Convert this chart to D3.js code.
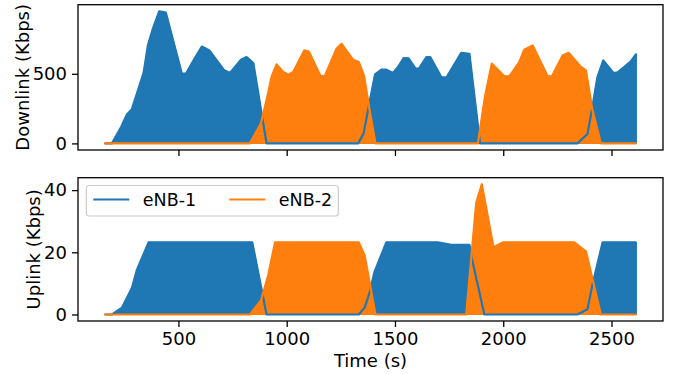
<!DOCTYPE html>
<html>
<head>
<meta charset="utf-8">
<script src="https://cdn.jsdelivr.net/npm/d3@7/dist/d3.min.js"></script>
<style>
  body { margin: 0; background: #fff; }
  text { font-family: "DejaVu Sans", sans-serif; fill: #000; }
</style>
</head>
<body>
<svg id="chart" width="677" height="374"></svg>
<script>
// Downlink throughput (Kbps), each cell sampled at its own instants (s)
const dlTime1 = [159, 193, 236, 262, 285, 313, 339, 359, 380, 411, 442, 516, 535, 574, 608, 643, 677, 712, 738, 789, 815, 846, 907,
  1330, 1355, 1378, 1408, 1437, 1460, 1491, 1514, 1540, 1563, 1595, 1611, 1645, 1663, 1714, 1737, 1806, 1844, 1870, 1893,
  2343, 2389, 2412, 2435, 2462, 2509, 2528, 2558, 2589, 2615];
const dl1 = [0, 0, 120, 208, 246, 382, 506, 704, 815, 949, 939, 501, 501, 608, 696, 668, 596, 525, 506, 601, 620, 577, 0,
  0, 70, 260, 496, 530, 530, 506, 549, 613, 611, 537, 537, 620, 620, 477, 472, 651, 644, 300, 0,
  0, 68, 263, 477, 596, 506, 511, 549, 589, 644];

const dlTime2 = [159, 830, 881, 907, 930, 953, 984, 1007, 1030, 1081, 1102, 1156, 1176, 1230, 1253, 1306, 1333, 1357, 1383, 1410,
  1883, 1915, 1947, 2005, 2028, 2074, 2097, 2136, 2205, 2225, 2274, 2302, 2356, 2382, 2412, 2451, 2615];
const dl2 = [0, 0, 144, 311, 477, 568, 513, 494, 513, 668, 660, 484, 484, 680, 716, 601, 584, 486, 239, 0,
  0, 330, 573, 482, 482, 584, 673, 704, 482, 482, 632, 651, 554, 525, 239, 0, 0];

// Uplink throughput (Kbps)
const ulTime1 = [159, 193, 239, 285, 308, 362, 841, 907, 1333, 1360, 1383, 1406, 1460, 1698, 1760, 1844, 1860, 1913,
  2343, 2389, 2412, 2459, 2615];
const ul1 = [0, 0, 2.2, 8.5, 14.3, 23.2, 23.2, 0, 0, 2.2, 7, 13.8, 23.2, 23.2, 22.4, 22.4, 16.5, 0,
  0, 1.7, 9.6, 23.2, 23.2];

const ulTime2 = [159, 830, 881, 915, 946, 1333, 1360, 1410, 1829, 1875, 1901, 1955, 1998, 2328, 2382, 2451, 2615];
const ul2 = [0, 0, 4.5, 12.7, 23.2, 23.2, 19, 0, 0, 35.8, 41.9, 21.6, 23.2, 23.2, 20.3, 0, 0];

const seriesNames = ['eNB-1', 'eNB-2'];
const colors = ['#1f77b4', '#ff7f0e'];
const xTicks = [500, 1000, 1500, 2000, 2500];
const dlTicks = [0, 500];
const ulTicks = [0, 20, 40];

const svg = d3.select('#chart');
const fs = 18;
const legendFs = 17.5;
const left = 78, right = 663;

// matplotlib style 5% margins
function padded(lo, hi) {
  const r = hi - lo;
  return [lo - 0.05 * r, hi + 0.05 * r];
}

const allTimes = dlTime1.concat(dlTime2, ulTime1, ulTime2);
const x = d3.scaleLinear()
  .domain(padded(d3.min(allTimes), d3.max(allTimes)))
  .range([left, right]);

const panels = [
  { top: 4.7, bottom: 150, label: 'Downlink (Kbps)', ticks: dlTicks, labelX: 29,
    series: [[dlTime1, dl1], [dlTime2, dl2]], xLabels: false },
  { top: 177.7, bottom: 321, label: 'Uplink (Kbps)', ticks: ulTicks, labelX: 40,
    series: [[ulTime1, ul1], [ulTime2, ul2]], xLabels: true }
];

panels.forEach((p) => {
  const vals = p.series[0][1].concat(p.series[1][1]);
  const y = d3.scaleLinear()
    .domain(padded(0, d3.max(vals)))
    .range([p.bottom, p.top]);

  const g = svg.append('g');
  const clipId = 'clip' + Math.round(p.top);
  svg.append('clipPath').attr('id', clipId)
    .append('rect')
    .attr('x', left).attr('y', p.top)
    .attr('width', right - left).attr('height', p.bottom - p.top);

  const plot = g.append('g').attr('clip-path', `url(#${clipId})`);

  const pts = p.series.map(([t, v]) => t.map((d, i) => [d, v[i]]));

  const area = d3.area()
    .x((d) => x(d[0]))
    .y0(y(0))
    .y1((d) => y(d[1]));
  const line = d3.line()
    .x((d) => x(d[0]))
    .y((d) => y(d[1]));

  // fills first, lines on top (as matplotlib zorder does)
  pts.forEach((d, i) => {
    plot.append('path')
      .attr('d', area(d))
      .attr('fill', colors[i])
      .attr('stroke', colors[i])
      .attr('stroke-width', 1);
  });
  pts.forEach((d, i) => {
    plot.append('path')
      .attr('d', line(d))
      .attr('fill', 'none')
      .attr('stroke', colors[i])
      .attr('stroke-width', 2.2)
      .attr('stroke-linejoin', 'round');
  });

  // axes
  const yAxis = g.append('g')
    .attr('transform', `translate(${left},0)`)
    .call(d3.axisLeft(y).tickValues(p.ticks).tickSize(6).tickPadding(5).tickFormat(d3.format('d')));
  const xAxis = g.append('g')
    .attr('transform', `translate(0,${p.bottom})`)
    .call(d3.axisBottom(x).tickValues(xTicks).tickSize(6).tickPadding(5)
      .tickFormat(p.xLabels ? d3.format('d') : () => ''));

  [yAxis, xAxis].forEach((a) => {
    a.select('.domain').remove();
    a.selectAll('line').attr('stroke', '#000').attr('stroke-width', 1.3);
    a.selectAll('text').style('font-size', fs + 'px').style('font-family', '"DejaVu Sans", sans-serif').attr('fill', '#000');
  });

  // frame
  g.append('rect')
    .attr('x', left).attr('y', p.top)
    .attr('width', right - left).attr('height', p.bottom - p.top)
    .attr('fill', 'none')
    .attr('stroke', '#000')
    .attr('stroke-width', 1.3);

  // y label
  g.append('text')
    .attr('transform', `translate(${p.labelX},${(p.top + p.bottom) / 2}) rotate(-90)`)
    .attr('text-anchor', 'middle')
    .style('font-size', fs + 'px')
    .text(p.label);
});

// x label
svg.append('text')
  .attr('x', (left + right) / 2)
  .attr('y', 367)
  .attr('text-anchor', 'middle')
  .style('font-size', fs + 'px')
  .text('Time (s)');

// legend in the uplink panel
const lg = svg.append('g').attr('transform', 'translate(86.3,185.5)');
lg.append('rect')
  .attr('width', 252).attr('height', 30.5)
  .attr('rx', 3)
  .attr('fill', '#fff').attr('fill-opacity', 0.8)
  .attr('stroke', '#ccc').attr('stroke-width', 1.2);
const colX = [7, 143];
seriesNames.forEach((name, i) => {
  lg.append('line')
    .attr('x1', colX[i]).attr('x2', colX[i] + 36)
    .attr('y1', 14).attr('y2', 14)
    .attr('stroke', colors[i]).attr('stroke-width', 2.2);
  lg.append('text')
    .attr('x', colX[i] + 49.5)
    .attr('y', 20.5)
    .style('font-size', legendFs + 'px')
    .text(name);
});
</script>
</body>
</html>
